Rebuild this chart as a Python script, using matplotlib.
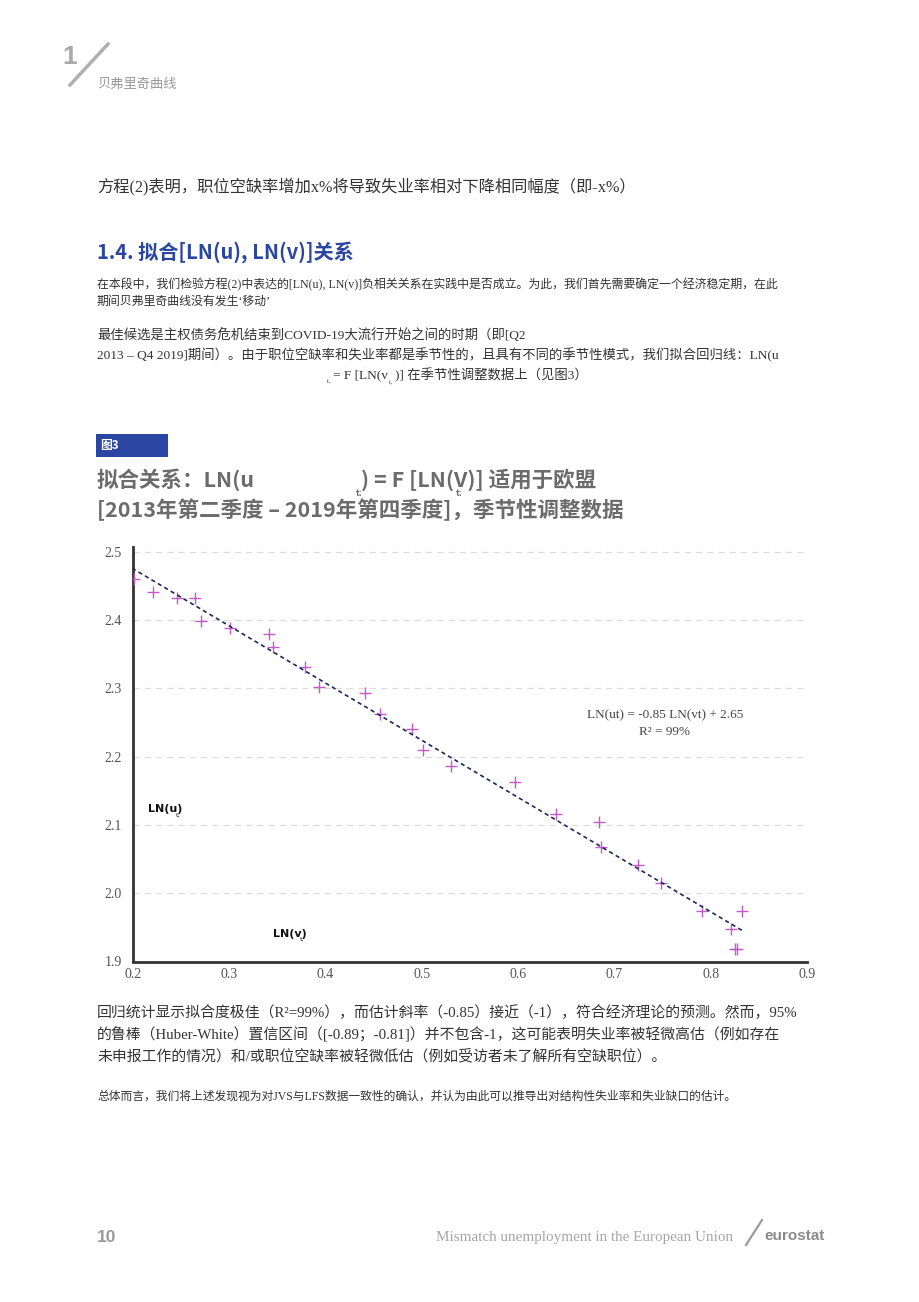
import matplotlib
matplotlib.use("Agg")
import matplotlib.pyplot as plt
import numpy as np
from matplotlib.lines import Line2D
from matplotlib.patches import Rectangle

W, H = 920, 1302

# data: LN(v_t) vs LN(u_t), EU, 2013Q2-2019Q4
ln_v = [0.201, 0.221, 0.246, 0.264, 0.271, 0.301, 0.341, 0.345, 0.379, 0.393,
        0.441, 0.457, 0.490, 0.501, 0.530, 0.597, 0.639, 0.684, 0.686, 0.725,
        0.748, 0.791, 0.832, 0.821, 0.825, 0.827]
ln_u = [2.460, 2.441, 2.433, 2.433, 2.398, 2.388, 2.379, 2.361, 2.331, 2.302,
        2.293, 2.262, 2.240, 2.209, 2.187, 2.163, 2.116, 2.105, 2.068, 2.042,
        2.015, 1.974, 1.974, 1.947, 1.918, 1.918]
x_ticks = [0.2, 0.3, 0.4, 0.5, 0.6, 0.7, 0.8, 0.9]
y_ticks = [1.9, 2.0, 2.1, 2.2, 2.3, 2.4, 2.5]

CJK = ["Noto Sans CJK SC", "DejaVu Sans"]
MIX = ["Liberation Serif", "Noto Sans CJK SC"]
BLUE = "#2b45a3"
GREY = "#6b6b6b"
INK = "#333333"


def fx(x):
    return x / W


def fy(y):
    return 1 - y / H


def put(x, y, s, **kw):
    kw.setdefault("va", "center")
    kw.setdefault("ha", "left")
    fig.text(fx(x), fy(y), s, **kw)


fig = plt.figure(figsize=(W / 100, H / 100), dpi=100)

# page header
put(62, 57, "1", family="Liberation Sans", fontsize=19, fontweight="bold", color="#aaaaaa")
fig.add_artist(Line2D([fx(70), fx(108)], [fy(85), fy(44)], color="#b0b0b0", lw=2.5))
put(97, 84, "贝弗里奇曲线", family=CJK, fontsize=9.5, color="#999999")

# body text above the figure
put(97, 186, "方程(2)表明，职位空缺率增加x%将导致失业率相对下降相同幅度（即-x%）",
    family=MIX, fontsize=11.7, color=INK)
put(97, 252, "1.4. 拟合[LN(u), LN(v)]关系", family=CJK, fontsize=14.5,
    fontweight="bold", color=BLUE)
put(97, 285, "在本段中，我们检验方程(2)中表达的[LN(u), LN(v)]负相关关系在实践中是否成立。为此，我们首先需要确定一个经济稳定期，在此",
    family=MIX, fontsize=8.6, color=INK)
put(97, 302, "期间贝弗里奇曲线没有发生‘移动’", family=MIX, fontsize=8.6, color=INK)
put(97, 335, "最佳候选是主权债务危机结束到COVID-19大流行开始之间的时期（即[Q2",
    family=MIX, fontsize=9.6, color=INK)
put(97, 355, "2013 – Q4 2019]期间）。由于职位空缺率和失业率都是季节性的，且具有不同的季节性模式，我们拟合回归线：LN(u",
    family=MIX, fontsize=9.6, color=INK)
put(333, 375, "= F [LN(v", family=MIX, fontsize=9.6, color=INK)
put(395, 375, ")] 在季节性调整数据上（见图3）", family=MIX, fontsize=9.6, color=INK)
put(327, 382, "t,", family="Liberation Serif", fontsize=4.5, color=INK)
put(389, 383, "t,", family="Liberation Serif", fontsize=4.5, color=INK)

# figure label box and title
fig.add_artist(Rectangle((fx(96), fy(457)), fx(72), 23 / H, color=BLUE, lw=0))
put(100, 446, "图3", family=CJK, fontsize=8.5, fontweight="bold", color="white")
put(97, 480, "拟合关系：LN(u", family=CJK, fontsize=15.5, fontweight="bold", color=GREY)
put(361, 480, ") = F [LN(V)] 适用于欧盟", family=CJK, fontsize=15.5, fontweight="bold", color=GREY)
put(356, 493, "t:", family=CJK, fontsize=6.5, fontweight="bold", color=GREY)
put(456, 493, "t:", family=CJK, fontsize=6.5, fontweight="bold", color=GREY)
put(97, 510, "[2013年第二季度 – 2019年第四季度]，季节性调整数据", family=CJK,
    fontsize=15.5, fontweight="bold", color=GREY)

# scatter chart
ax = fig.add_axes([fx(133), fy(961.5), fx(807) - fx(133), (961.5 - 547) / H])
x = np.array(ln_v)
y = np.array(ln_u)
ax.scatter(x, y, marker="+", s=70, linewidths=1.0, color="#c35bcb", zorder=3)

slope, icpt = np.polyfit(x, y, 1)
xl = np.array([x.min() - 0.002, x.max() + 0.003])
ax.plot(xl, slope * xl + icpt, color="#1b2a57", lw=1.2, dashes=(2.5, 2), zorder=4)

ax.set_xlim(0.2, 0.9)
ax.set_ylim(1.9, 2.507)
ax.set_xticks(x_ticks)
ax.set_yticks(y_ticks)
ax.set_xticklabels(["{:.1f}".format(v) for v in x_ticks])
ax.set_yticklabels(["{:.1f}".format(v) for v in y_ticks])
for lab in ax.get_xticklabels() + ax.get_yticklabels():
    lab.set_family("Liberation Serif")
    lab.set_fontsize(10)
    lab.set_color("#555555")
ax.tick_params(axis="y", length=0, pad=8)
ax.tick_params(axis="x", length=0, pad=5)
for g in y_ticks[1:]:
    ax.axhline(g, color="#dcdcdc", lw=0.9, dashes=(5, 4), zorder=1)
for side in ("top", "right"):
    ax.spines[side].set_visible(False)
for side in ("left", "bottom"):
    ax.spines[side].set_color("#333333")
    ax.spines[side].set_linewidth(2)

ax.text(0.7525, 2.261, "LN(ut) = -0.85 LN(vt) + 2.65", ha="center", va="center",
        family="Liberation Serif", fontsize=9.5, color="#444444")
ax.text(0.7525, 2.236, "R² = 99%", ha="center", va="center",
        family="Liberation Serif", fontsize=9.5, color="#444444")
ax.text(0.216, 2.124, "LN(u)", ha="left", va="center", family="DejaVu Sans",
        fontsize=8, fontweight="bold", color="#111111")
ax.text(0.244, 2.114, "t,", ha="left", va="center", family="DejaVu Sans",
        fontsize=4.5, color="#111111")
ax.text(0.345, 1.941, "LN(v)", ha="left", va="center", family="DejaVu Sans",
        fontsize=8, fontweight="bold", color="#111111")
ax.text(0.373, 1.932, "t,", ha="left", va="center", family="DejaVu Sans",
        fontsize=4.5, color="#111111")

# body text below the figure
put(97, 1013, "回归统计显示拟合度极佳（R²=99%），而估计斜率（-0.85）接近（-1），符合经济理论的预测。然而，95%",
    family=MIX, fontsize=10.7, color=INK)
put(97, 1035, "的鲁棒（Huber-White）置信区间（[-0.89；-0.81]）并不包含-1，这可能表明失业率被轻微高估（例如存在",
    family=MIX, fontsize=10.7, color=INK)
put(97, 1056, "未申报工作的情况）和/或职位空缺率被轻微低估（例如受访者未了解所有空缺职位）。",
    family=MIX, fontsize=10.7, color=INK)
put(97, 1097, "总体而言，我们将上述发现视为对JVS与LFS数据一致性的确认，并认为由此可以推导出对结构性失业率和失业缺口的估计。",
    family=MIX, fontsize=8.5, color=INK)

# footer
put(97, 1238, "10", family="Liberation Sans", fontsize=12.5, fontweight="bold", color="#999999")
put(733, 1238, "Mismatch unemployment in the European Union", ha="right",
    family="Liberation Serif", fontsize=10.9, color="#a5a5a5")
fig.add_artist(Line2D([fx(746), fx(762)], [fy(1245), fy(1220)], color="#999999", lw=1.6))
put(764, 1236, "eurostat", family="Liberation Sans", fontsize=11, fontweight="bold",
    color="#8a8a8a")

fig.savefig("out.png", dpi=100)
